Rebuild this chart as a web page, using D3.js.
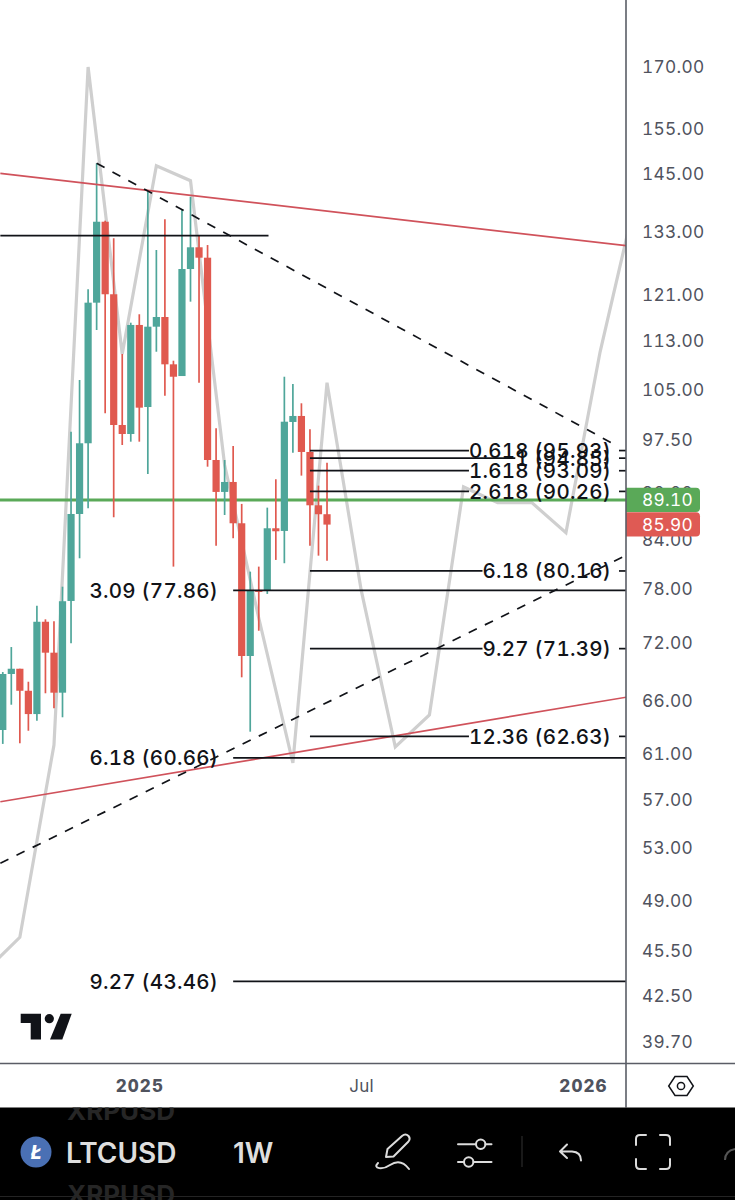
<!DOCTYPE html>
<html>
<head>
<meta charset="utf-8">
<script src="https://cdn.jsdelivr.net/npm/d3@7"></script>
<style>
html,body{margin:0;padding:0;background:#fff;overflow:hidden}
svg{display:block}
text{font-family:Inter,"Noto Sans",sans-serif;font-variant-numeric:tabular-nums}
</style>
</head>
<body>
<svg id="chart" width="735" height="1200"></svg>
<script>
// ---------- data ----------
const candleStart = "2024-09-09";
const opens  = [63.23,68.74,69.28,67.04,64.75,74.31,70.96,66.85,76.65,87.27,96.98,119.61,134.96,121.12,99.66,98.33,115.70,102.37,115.40,117.08,109.10,107.21,125.77,129.91,127.91,94.59,90.19,91.54,86.07,70.61,77.92,77.80,85.43,85.09,100.11,101.01,95.73,88.41,87.24];
const highs  = [68.94,71.56,69.28,67.95,76.11,74.58,74.36,78.30,98.67,106.58,122.02,147.25,135.17,131.66,110.79,116.09,117.56,141.14,129.39,135.45,109.69,137.48,140.09,132.31,130.35,99.17,94.59,96.59,88.59,80.08,80.68,88.10,91.91,107.10,105.94,102.94,99.03,91.04,94.21];
const lows   = [61.93,65.66,61.99,63.16,64.11,66.79,65.31,64.44,71.96,81.69,88.02,114.83,101.42,86.85,96.73,97.21,97.21,92.64,111.17,104.11,80.68,107.21,119.79,106.15,93.65,83.24,87.14,84.17,68.40,63.07,73.32,77.46,81.49,81.09,95.63,92.41,83.24,82.01,81.40];
const closes = [68.74,69.28,67.04,64.75,74.31,70.96,66.85,76.62,87.27,96.98,119.61,134.96,121.12,99.66,98.33,115.70,102.27,115.40,117.08,109.10,107.10,125.77,129.91,127.91,94.59,90.19,91.54,86.07,70.61,77.92,77.69,85.43,85.05,100.15,101.01,95.73,88.41,87.24,85.90];

const ghostStart = "2024-08-26";
const ghostValues = [44.15,46.41,61.83,170,110.79,146.73,143.48,93.89,74.73,60.20,106.15,77.92,61.65,64.66,90.86,88.76,88.76,84.87,111.12,138.37];

const priceTicks = [170,155,145,133,121,113,105,97.5,90,84,78,72,66,61,57,53,49,45.5,42.5,39.7];
const timeTickDates = ["2024-12-30","2025-06-30","2025-12-29"];
const timeTickLabels = ["2025","Jul","2026"];

const edgeLeft = "2024-09-07", edgeRight = "2026-02-03";
const redUpper = [[edgeLeft,145.07],[edgeRight,130.2]];
const redLower = [[edgeLeft,56.81],[edgeRight,66.41]];
const dashUpper = [["2024-11-25",147.25],["2026-01-26",96.60]];
const dashLower = [[edgeLeft,51.83],[edgeRight,82.09]];
const blackLevel = [[edgeLeft,132.2],["2025-04-15",132.2]];

const fibRatios = ["0.618","1","1.618","2.618","6.18","9.27","12.36"];
const fibPrices = [95.93,94.85,93.09,90.26,80.16,71.39,62.63];
const fibStart = "2025-05-19";
const extRatios = ["3.09","6.18","9.27"];
const extPrices = [77.86,60.66,43.46];
const extStart = "2025-03-17";

const bidPrice = 89.10, lastPrice = 85.90;

// ---------- layout / colours ----------
const W = 735, plotR = 626, plotB = 1063.5, barT = 1107.5;
const TEAL="#4fa69a", RED="#e0594f", TREND="#d0525b", AXISC="#5a5d66", LABEL="#50535e", INK="#111318", GREEN="#5aa958";
const parse = d3.utcParse("%Y-%m-%d");

const x = d3.scaleUtc().domain([parse("2024-12-30"),parse("2025-12-29")]).range([139.3,583]);
const y = d3.scaleLog().domain([170,39.7]).range([67,1042]);

const svg = d3.select("#chart");
svg.append("clipPath").attr("id","plot").append("rect").attr("width",plotR).attr("height",plotB);
const plot = svg.append("g").attr("clip-path","url(#plot)");

const line = d3.line().x(d=>x(parse(d[0]))).y(d=>y(d[1]));

// ghost projection path
const ghost = ghostValues.map((v,i)=>[d3.utcWeek.offset(parse(ghostStart),i*4),v]);
plot.append("path").attr("fill","none").attr("stroke","#cfcfcf").attr("stroke-width",3.2)
  .attr("stroke-linejoin","miter")
  .attr("d",d3.line().x(d=>x(d[0])).y(d=>y(d[1]))(ghost));

// current bid line
plot.append("line").attr("x1",0).attr("x2",plotR).attr("y1",y(bidPrice)).attr("y2",y(bidPrice))
  .attr("stroke",GREEN).attr("stroke-width",3);

// candles
const candles = opens.map((o,i)=>({d:d3.utcWeek.offset(parse(candleStart),i),o,h:highs[i],l:lows[i],c:closes[i]}));
const cg = plot.append("g").selectAll("g").data(candles).join("g");
cg.append("line").attr("x1",d=>x(d.d)).attr("x2",d=>x(d.d)).attr("y1",d=>y(d.h)).attr("y2",d=>y(d.l))
  .attr("stroke",d=>d.c>=d.o?TEAL:RED).attr("stroke-width",1.7);
cg.append("rect").attr("x",d=>x(d.d)-3.6).attr("width",7.2)
  .attr("y",d=>y(Math.max(d.o,d.c))).attr("height",d=>Math.max(1.5,Math.abs(y(d.o)-y(d.c))))
  .attr("fill",d=>d.c>=d.o?TEAL:RED);

// trend lines
[redUpper,redLower].forEach(t=>plot.append("path").attr("d",line(t)).attr("fill","none").attr("stroke",TREND).attr("stroke-width",1.7));
[dashUpper,dashLower].forEach(t=>plot.append("path").attr("d",line(t)).attr("fill","none").attr("stroke",INK).attr("stroke-width",1.7).attr("stroke-dasharray","9 9"));
plot.append("path").attr("d",line(blackLevel)).attr("fill","none").attr("stroke",INK).attr("stroke-width",1.7);

// level labels
const labels = svg.append("g");
function addLabel(txt, price, right){
  return labels.append("text").attr("x",right).attr("y",y(price)).attr("dy","0.36em")
    .attr("text-anchor","end").attr("font-size",20.5).attr("font-weight",500)
    .attr("letter-spacing","0.25px").attr("fill",INK).text(txt);
}
// retracement levels: the line breaks around its label
const fibG = plot.append("g");
fibRatios.forEach((r,i)=>{
  const t = addLabel(`${r} (${fibPrices[i].toFixed(2)})`, fibPrices[i], 611);
  const left = 611 - t.node().getComputedTextLength();
  const yy = y(fibPrices[i]);
  fibG.append("line").attr("x1",x(parse(fibStart))).attr("x2",left).attr("y1",yy).attr("y2",yy).attr("stroke",INK).attr("stroke-width",1.7);
  fibG.append("line").attr("x1",619).attr("x2",plotR).attr("y1",yy).attr("y2",yy).attr("stroke",INK).attr("stroke-width",1.7);
});
// extension levels: label sits left of the line
extRatios.forEach((r,i)=>{
  addLabel(`${r} (${extPrices[i].toFixed(2)})`, extPrices[i], 218);
  const yy = y(extPrices[i]);
  fibG.append("line").attr("x1",x(parse(extStart))).attr("x2",plotR).attr("y1",yy).attr("y2",yy).attr("stroke",INK).attr("stroke-width",1.7);
});

// price axis
const yAxis = d3.axisRight(y).tickValues(priceTicks).tickSize(0).tickPadding(16).tickFormat(d3.format(".2f"));
const yg = svg.append("g").attr("transform",`translate(${plotR},0)`).call(yAxis);
yg.select(".domain").remove();
yg.selectAll("text").attr("font-size",17.3).attr("letter-spacing","0.3px").attr("fill",LABEL)
  .style("font-family","Inter,sans-serif");

// price badges
[[bidPrice,GREEN],[lastPrice,"#df5a54"]].forEach(([p,c],i)=>{
  const h=24.2, top = i===0 ? 487.7 : 512.2;
  svg.append("path").attr("fill",c)
    .attr("d",`M${plotR} ${top}H696a4 4 0 0 1 4 4V${top+h-4}a4 4 0 0 1 -4 4H${plotR}Z`);
  svg.append("text").attr("x",642).attr("y",top+h/2).attr("dy","0.36em").attr("font-size",17.3)
    .attr("letter-spacing","0.3px").attr("fill","#fff").text(p.toFixed(2));
});

// frame
const AX = svg.append("g").attr("stroke",AXISC);
AX.append("line").attr("x1",plotR).attr("x2",plotR).attr("y1",0).attr("y2",barT).attr("stroke-width",1.6);
AX.append("line").attr("x1",0).attr("x2",W).attr("y1",plotB).attr("y2",plotB).attr("stroke-width",1.6);

// time axis
const xAxis = d3.axisBottom(x).tickValues(timeTickDates.map(parse)).tickSize(0).tickPadding(0)
  .tickFormat((d,i)=>timeTickLabels[i]);
const xg = svg.append("g").attr("transform",`translate(0,1086)`).call(xAxis);
xg.select(".domain").remove();
xg.selectAll("text").attr("y",0).attr("dy","0.36em").attr("font-size",17).attr("fill",LABEL)
  .attr("letter-spacing",(d,i)=>i===1?"0.3px":"1.1px")
  .attr("font-weight",(d,i)=>i===1?400:800)
  .style("font-family","Inter,sans-serif");

// TradingView mark
const logo = svg.append("g").attr("fill",INK);
logo.append("path").attr("d","M20.7 1013.7H41V1039.5H30.7V1023H20.7Z");
logo.append("circle").attr("cx",49.3).attr("cy",1018.7).attr("r",4.6);
logo.append("path").attr("d","M60.7 1013.7H71.7L62.3 1039.5H50Z");

// settings hexagon
const hex = svg.append("g").attr("fill","none").attr("stroke",INK).attr("stroke-width",1.5);
hex.append("path").attr("d","M675 1076.5H687L693.3 1086L687 1095.5H675L668.7 1086Z");
hex.append("circle").attr("cx",681).attr("cy",1086).attr("r",3.6);

// bottom toolbar
svg.append("rect").attr("x",0).attr("y",barT).attr("width",W).attr("height",1200-barT).attr("fill","#000");
const tb = svg.append("g");
svg.append("clipPath").attr("id","bar").append("rect").attr("y",barT).attr("width",W).attr("height",1200-barT);
const ghostTxt = tb.append("g").attr("clip-path","url(#bar)");
[1110.5,1195].forEach(yy=>ghostTxt.append("text").attr("x",67).attr("y",yy).attr("dy","0.36em")
  .attr("font-size",26).attr("font-weight",700).attr("fill","#262626").text("XRPUSD"));
tb.append("line").attr("x1",0).attr("x2",W).attr("y1",1196.5).attr("y2",1196.5).attr("stroke","#242424");
tb.append("circle").attr("cx",36).attr("cy",1152).attr("r",15.5).attr("fill","#4a70b4");
tb.append("text").attr("x",36).attr("y",1152).attr("dy","0.36em").attr("text-anchor","middle")
  .attr("font-size",19).attr("font-weight",800).attr("font-style","italic").attr("fill","#fff").text("Ł");
tb.append("text").attr("x",66).attr("y",1153).attr("dy","0.36em").attr("font-size",28).attr("font-weight",600).attr("fill","#dedede").text("LTCUSD");
tb.append("text").attr("x",233).attr("y",1153).attr("dy","0.36em").attr("font-size",28).attr("font-weight",600).attr("fill","#dedede").style("font-variant-numeric","normal").text("1W");
const ic = tb.append("g").attr("fill","none").attr("stroke","#dcdcdc").attr("stroke-width",2).attr("stroke-linecap","round").attr("stroke-linejoin","round");
ic.append("path").attr("d","M386 1157L387.5 1149L402 1136Q405.5 1133 408.5 1136Q411 1139 408 1142L393.5 1156.5Z");
ic.append("path").attr("d","M378 1163C372 1169 383 1170 390 1165C396 1161 403 1161 409 1169");
ic.append("path").attr("d","M458 1144.3H476M485.5 1144.3H491.5M458 1162H464M473.5 1162H491.5");
ic.append("circle").attr("cx",480.7).attr("cy",1144.3).attr("r",4.7);
ic.append("circle").attr("cx",468.7).attr("cy",1162).attr("r",4.7);
ic.append("path").attr("d","M567 1144.5L560 1151.5L567 1158M560 1151.5H572Q581 1152 581 1160.5");
ic.append("path").attr("d","M636 1145V1139Q636 1135 640 1135H646M660 1135H666Q670 1135 670 1139V1145M670 1159V1165Q670 1169 666 1169H660M646 1169H640Q636 1169 636 1165V1159");
tb.append("line").attr("x1",522).attr("x2",522).attr("y1",1136).attr("y2",1167).attr("stroke","#333");
tb.append("path").attr("d","M725 1160Q725 1151 735 1149").attr("fill","none").attr("stroke","#555").attr("stroke-width",2);
</script>
</body>
</html>
